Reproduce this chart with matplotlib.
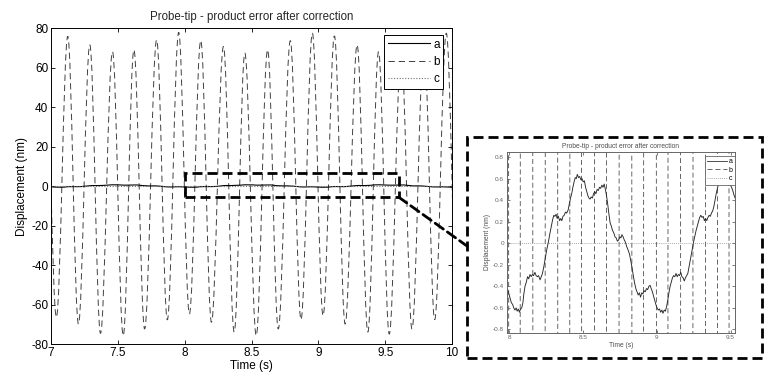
import numpy as np
import matplotlib
matplotlib.use("Agg")
import matplotlib.pyplot as plt
from matplotlib.path import Path
from matplotlib.patches import PathPatch, Rectangle, ConnectionPatch
from matplotlib.lines import Line2D

plt.rcParams['font.family'] = ['Liberation Sans', 'DejaVu Sans']

# serie b: extremos (tempo, deslocamento em nm)
b_time = [6.955, 7.04, 7.125, 7.205, 7.29, 7.37, 7.46, 7.54, 7.62, 7.70, 7.79, 7.87,
          7.955, 8.035, 8.12, 8.20, 8.29, 8.37, 8.45, 8.535, 8.62, 8.70, 8.79, 8.87,
          8.955, 9.035, 9.12, 9.20, 9.29, 9.37, 9.45, 9.53, 9.62, 9.70, 9.79, 9.87,
          9.957, 10.04]
b_disp = [77.0, -66.5, 75.8, -69.9, 71.5, -74.6, 68.0, -75.8, 69.0, -72.4, 74.0, -67.8,
          77.8, -64.8, 73.7, -69.0, 70.7, -74.0, 67.3, -75.8, 69.0, -72.4, 73.6, -67.7,
          77.4, -65.7, 76.0, -69.9, 71.5, -74.0, 68.0, -75.0, 69.0, -72.4, 73.0, -67.7,
          77.4, -66.0]

# serie a: erro residual (nm)
a_time = [7.00, 7.03, 7.07, 7.10, 7.13, 7.18, 7.22, 7.27, 7.31, 7.35, 7.39, 7.43, 7.46,
          7.50, 7.55, 7.60, 7.64, 7.69, 7.73, 7.77, 7.80, 7.84, 7.87, 7.90, 7.93, 7.96,
          7.985, 7.995, 8.005, 8.015, 8.025, 8.032, 8.040, 8.048, 8.055, 8.063, 8.070,
          8.078, 8.086, 8.094, 8.100, 8.108, 8.117, 8.125, 8.133, 8.142, 8.150, 8.158,
          8.166, 8.175, 8.183, 8.192, 8.200, 8.210, 8.218, 8.226, 8.235, 8.245, 8.255,
          8.266, 8.275, 8.285, 8.295, 8.303, 8.310, 8.318, 8.326, 8.334, 8.342, 8.350,
          8.357, 8.365, 8.373, 8.382, 8.390, 8.400, 8.410, 8.418, 8.424, 8.432, 8.440,
          8.448, 8.455, 8.462, 8.470, 8.478, 8.486, 8.494, 8.502, 8.510, 8.518, 8.526,
          8.534, 8.541, 8.548, 8.556, 8.564, 8.572, 8.580, 8.588, 8.596, 8.604, 8.612,
          8.620, 8.628, 8.636, 8.644, 8.652, 8.660, 8.668, 8.676, 8.684, 8.692, 8.700,
          8.708, 8.717, 8.725, 8.733, 8.741, 8.750, 8.757, 8.764, 8.772, 8.780, 8.788,
          8.796, 8.805, 8.815, 8.825, 8.834, 8.842, 8.850, 8.858, 8.866, 8.874, 8.882,
          8.890, 8.898, 8.906, 8.914, 8.922, 8.930, 8.938, 8.946, 8.954, 8.962, 8.970,
          8.978, 8.986, 8.994, 9.002, 9.010, 9.018, 9.026, 9.034, 9.042, 9.050, 9.058,
          9.066, 9.074, 9.082, 9.090, 9.098, 9.106, 9.114, 9.122, 9.130, 9.138, 9.146,
          9.154, 9.162, 9.170, 9.178, 9.186, 9.194, 9.202, 9.210, 9.218, 9.226, 9.234,
          9.242, 9.250, 9.258, 9.266, 9.274, 9.282, 9.290, 9.298, 9.306, 9.314, 9.322,
          9.330, 9.338, 9.346, 9.354, 9.362, 9.370, 9.378, 9.386, 9.394, 9.402, 9.410,
          9.418, 9.426, 9.434, 9.442, 9.450, 9.458, 9.466, 9.474, 9.482, 9.490, 9.498,
          9.506, 9.514, 9.522, 9.530, 9.56, 9.60, 9.64, 9.67, 9.71, 9.75, 9.78, 9.82,
          9.86, 9.89, 9.93, 9.97, 10.00]
a_disp = [-0.40, -0.55, -0.62, -0.55, -0.33, -0.30, -0.32, 0.00, 0.25, 0.22, 0.30, 0.50, 0.62,
          0.58, 0.42, 0.50, 0.54, 0.20, 0.04, 0.07, 0.00, -0.25, -0.46, -0.48, -0.40, -0.38,
          -0.42, -0.45, -0.50, -0.55, -0.57, -0.60, -0.62, -0.60, -0.63, -0.61, -0.64,
          -0.61, -0.60, -0.55, -0.47, -0.40, -0.36, -0.31, -0.33, -0.29, -0.31, -0.29,
          -0.30, -0.27, -0.30, -0.31, -0.30, -0.34, -0.31, -0.28, -0.22, -0.14, -0.06,
          0.01, 0.08, 0.15, 0.22, 0.26, 0.25, 0.27, 0.23, 0.25, 0.21, 0.23,
          0.21, 0.25, 0.26, 0.29, 0.28, 0.31, 0.38, 0.43, 0.46, 0.52, 0.57,
          0.61, 0.60, 0.64, 0.61, 0.62, 0.59, 0.60, 0.57, 0.58, 0.52, 0.48,
          0.44, 0.42, 0.41, 0.43, 0.42, 0.46, 0.48, 0.46, 0.50, 0.49, 0.52,
          0.51, 0.54, 0.52, 0.55, 0.50, 0.44, 0.36, 0.27, 0.19, 0.16, 0.12,
          0.10, 0.06, 0.05, 0.02, 0.03, 0.06, 0.05, 0.08, 0.06, 0.03, 0.01,
          -0.03, -0.06, -0.10, -0.17, -0.24, -0.31, -0.37, -0.42, -0.45, -0.48, -0.46,
          -0.50, -0.46, -0.47, -0.44, -0.45, -0.42, -0.43, -0.40, -0.39, -0.42, -0.45,
          -0.49, -0.53, -0.57, -0.60, -0.62, -0.61, -0.64, -0.62, -0.65, -0.62, -0.63,
          -0.59, -0.53, -0.46, -0.40, -0.36, -0.32, -0.30, -0.31, -0.28, -0.31, -0.29,
          -0.30, -0.27, -0.31, -0.32, -0.35, -0.32, -0.30, -0.28, -0.22, -0.16, -0.10,
          -0.04, 0.02, 0.07, 0.12, 0.16, 0.20, 0.24, 0.26, 0.24, 0.25, 0.21,
          0.23, 0.21, 0.24, 0.26, 0.25, 0.28, 0.30, 0.34, 0.40, 0.46, 0.51,
          0.55, 0.58, 0.61, 0.63, 0.62, 0.60, 0.61, 0.58, 0.57, 0.56, 0.54,
          0.52, 0.49, 0.45, 0.42, 0.43, 0.50, 0.54, 0.30, 0.05, 0.07, 0.00, -0.25,
          -0.46, -0.48, -0.40, -0.55, -0.62]

# serie c: referencia em zero
c_time = [7.0, 10.0]
c_disp = [0.0, 0.0]

main_xticks = [7, 7.5, 8, 8.5, 9, 9.5, 10]
main_yticks = [-80, -60, -40, -20, 0, 20, 40, 60, 80]
inset_xticks = [8, 8.5, 9, 9.5]
inset_yticks = [-0.8, -0.6, -0.4, -0.2, 0, 0.2, 0.4, 0.6, 0.8]
title = "Probe-tip - product error after correction"


def fmt(v):
    return ('%g' % v)


# curva suave (Bezier) passando pelos extremos lidos
def smooth_path(t, v, k=0.3642):
    verts = [(t[0], v[0])]
    codes = [Path.MOVETO]
    for i in range(len(t) - 1):
        dt = t[i + 1] - t[i]
        verts += [(t[i] + k * dt, v[i]), (t[i + 1] - k * dt, v[i + 1]), (t[i + 1], v[i + 1])]
        codes += [Path.CURVE4] * 3
    return Path(verts, codes)


def style_axes(ax, fs, col, tl):
    ax.tick_params(direction='in', top=True, right=True, length=tl, width=0.6,
                   labelsize=fs, colors=col, pad=2)
    for s in ax.spines.values():
        s.set_linewidth(0.7)
        s.set_color(col)


fig = plt.figure(figsize=(7.64, 3.76), dpi=100)

# ---- grafico principal ----
ax = fig.add_axes([0.0668, 0.0851, 0.5249, 0.8404])
line_a, = ax.plot(a_time, a_disp, color='black', lw=0.8)
ax.add_patch(PathPatch(smooth_path(b_time, b_disp), fill=False, ec='0.25', lw=0.7,
                       ls=(0, (6.5, 4))))
ax.plot(c_time, c_disp, color='0.45', lw=0.8, ls=(0, (1, 1.5)))
ax.set_xlim(7, 10)
ax.set_ylim(-80, 80)
ax.set_xticks(main_xticks)
ax.set_xticklabels([fmt(v) for v in main_xticks])
ax.set_yticks(main_yticks)
ax.set_yticklabels([fmt(v) for v in main_yticks])
style_axes(ax, 8.5, 'black', 3)
ax.set_title(title, fontsize=8.3, color='0.15', pad=6)
ax.set_xlabel('Time (s)', fontsize=8.5, labelpad=1)
ax.set_ylabel('Displacement (nm)', fontsize=8.5, labelpad=2)

h_a = Line2D([], [], color='black', lw=0.8)
h_b = Line2D([], [], color='0.25', lw=0.7, ls=(0, (6.5, 4)))
h_c = Line2D([], [], color='0.45', lw=0.8, ls=(0, (1, 1.5)))
leg = ax.legend([h_a, h_b, h_c], ['a', 'b', 'c'], loc='upper right',
                bbox_to_anchor=(0.9776, 0.978), borderaxespad=0, fontsize=8.5,
                handlelength=3.6, handletextpad=0.25, labelspacing=0.45,
                borderpad=0.3, fancybox=False, framealpha=1, edgecolor='black')
leg.get_frame().set_linewidth(0.7)

# retangulo da regiao ampliada
ax.add_patch(Rectangle((8.0, -5.6), 1.6, 12.3, fill=False, ec='black', lw=2,
                       ls=(0, (3.6, 1.8)), zorder=6, clip_on=False))

# ---- grafico ampliado ----
ax2 = fig.add_axes([0.6632, 0.1152, 0.2988, 0.4798])
ax2.plot(a_time, a_disp, color='0.15', lw=0.65)
ax2.add_patch(PathPatch(smooth_path(b_time, b_disp), fill=False, ec='0.3', lw=0.6,
                        ls=(0, (6, 3.5))))
ax2.plot(c_time, c_disp, color='0.55', lw=0.6, ls=(0, (1, 1.5)))
ax2.set_xlim(7.984, 9.529)
ax2.set_ylim(-0.83, 0.845)
ax2.set_xticks(inset_xticks)
ax2.set_xticklabels([fmt(v) for v in inset_xticks])
ax2.set_yticks(inset_yticks)
ax2.set_yticklabels([fmt(v) for v in inset_yticks])
style_axes(ax2, 4.6, '0.4', 2)
ax2.set_title(title, fontsize=4.8, color='0.3', pad=3)
ax2.set_xlabel('Time (s)', fontsize=4.8, color='0.3', labelpad=1)
ax2.set_ylabel('Displacement (nm)', fontsize=4.8, color='0.3', labelpad=1)

h2_a = Line2D([], [], color='0.2', lw=0.6)
h2_b = Line2D([], [], color='0.3', lw=0.6, ls=(0, (6, 3.5)))
h2_c = Line2D([], [], color='0.55', lw=0.6, ls=(0, (1, 1.5)))
leg2 = ax2.legend([h2_a, h2_b, h2_c], ['a', 'b', 'c'], loc='upper right',
                  bbox_to_anchor=(1.0, 0.98), borderaxespad=0, fontsize=5,
                  handlelength=2.9, handletextpad=0.3, labelspacing=0.25,
                  borderpad=0.3, fancybox=False, framealpha=1, edgecolor='0.4')
leg2.get_frame().set_linewidth(0.6)

# moldura tracejada e linha de ligacao
fig.add_artist(Rectangle((0.6113, 0.0479), 0.3861, 0.5878, transform=fig.transFigure,
                         fill=False, ec='black', lw=2, ls=(0, (3.6, 1.8))))
fig.add_artist(ConnectionPatch(xyA=(9.6, -5.6), coordsA=ax.transData,
                               xyB=(0.6113, 0.3457), coordsB=fig.transFigure,
                               arrowstyle='-', color='black', lw=2, ls=(0, (3.6, 1.8))))

plt.savefig('out.png', dpi=100)
